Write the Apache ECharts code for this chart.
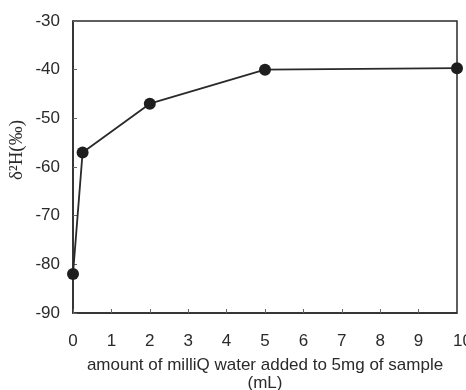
<!DOCTYPE html>
<html><head><meta charset="utf-8">
<script src="https://cdn.jsdelivr.net/npm/echarts@6/dist/echarts.min.js"></script>
<style>html,body{margin:0;padding:0;background:#fff}#c{width:466px;height:390px}</style>
</head><body><div id="c"></div>
<script>
var xValues = [0, 0.25, 2, 5, 10];
var yValues = [-82, -57, -47, -40, -39.7];
var xTicks = [0,1,2,3,4,5,6,7,8,9,10];
var yTicks = [-90,-80,-70,-60,-50,-40,-30];
var yTitle = 'δ²H(‰)';
var xTitle = 'amount of milliQ water added to 5mg of sample\n(mL)';

var ink = '#2a2a2a';
var chart = echarts.init(document.getElementById('c'));
chart.setOption({
  animation: false,
  backgroundColor: '#fff',
  grid: {left: 73, right: 9, top: 21, bottom: 77, show: true, borderColor: ink, borderWidth: 1.5,
    backgroundColor: 'transparent', containLabel: false, outerBoundsMode: 'none'},
  graphic: [{
    type: 'text', x: 17, y: 150, rotation: Math.PI / 2,
    style: {text: yTitle, fontFamily: 'Liberation Serif', fontSize: 19, fill: ink,
      align: 'center', verticalAlign: 'middle'}
  }],
  xAxis: {
    type: 'value', min: 0, max: 10, interval: 1,
    name: xTitle,
    nameLocation: 'middle', nameGap: 43,
    nameTextStyle: {fontFamily: 'Liberation Sans', fontSize: 17, color: ink, lineHeight: 18},
    axisLine: {show: true, lineStyle: {color: ink, width: 1.5}},
    axisTick: {show: true, inside: true, length: 4, lineStyle: {color: '#666', width: 1}},
    axisLabel: {fontFamily: 'Liberation Sans', fontSize: 17, color: ink, margin: 20, showMaxLabel: true, hideOverlap: false,
      rich: {last: {fontFamily: 'Liberation Sans', fontSize: 17, color: ink, padding: [0, 0, 0, 11]}},
      formatter: function(v){
        if (xTicks.indexOf(v) < 0) return '';
        return v === xTicks[xTicks.length - 1] ? '{last|' + v + '}' : String(v);
      }},
    splitLine: {show: false}
  },
  yAxis: {
    type: 'value', min: -90, max: -30, interval: 10,
    axisLine: {show: true, lineStyle: {color: ink, width: 1.5}},
    axisTick: {show: true, inside: true, length: 4, lineStyle: {color: '#666', width: 1}},
    axisLabel: {fontFamily: 'Liberation Sans', fontSize: 17, color: ink, margin: 13,
      formatter: function(v){ return yTicks.indexOf(v) >= 0 ? String(v) : ''; }},
    splitLine: {show: false}
  },
  series: [{
    type: 'line',
    data: xValues.map(function(x, i){ return [x, yValues[i]]; }),
    symbol: 'circle', symbolSize: 12,
    lineStyle: {color: ink, width: 1.8},
    itemStyle: {color: '#1e1e1e'}
  }]
});
</script></body></html>
